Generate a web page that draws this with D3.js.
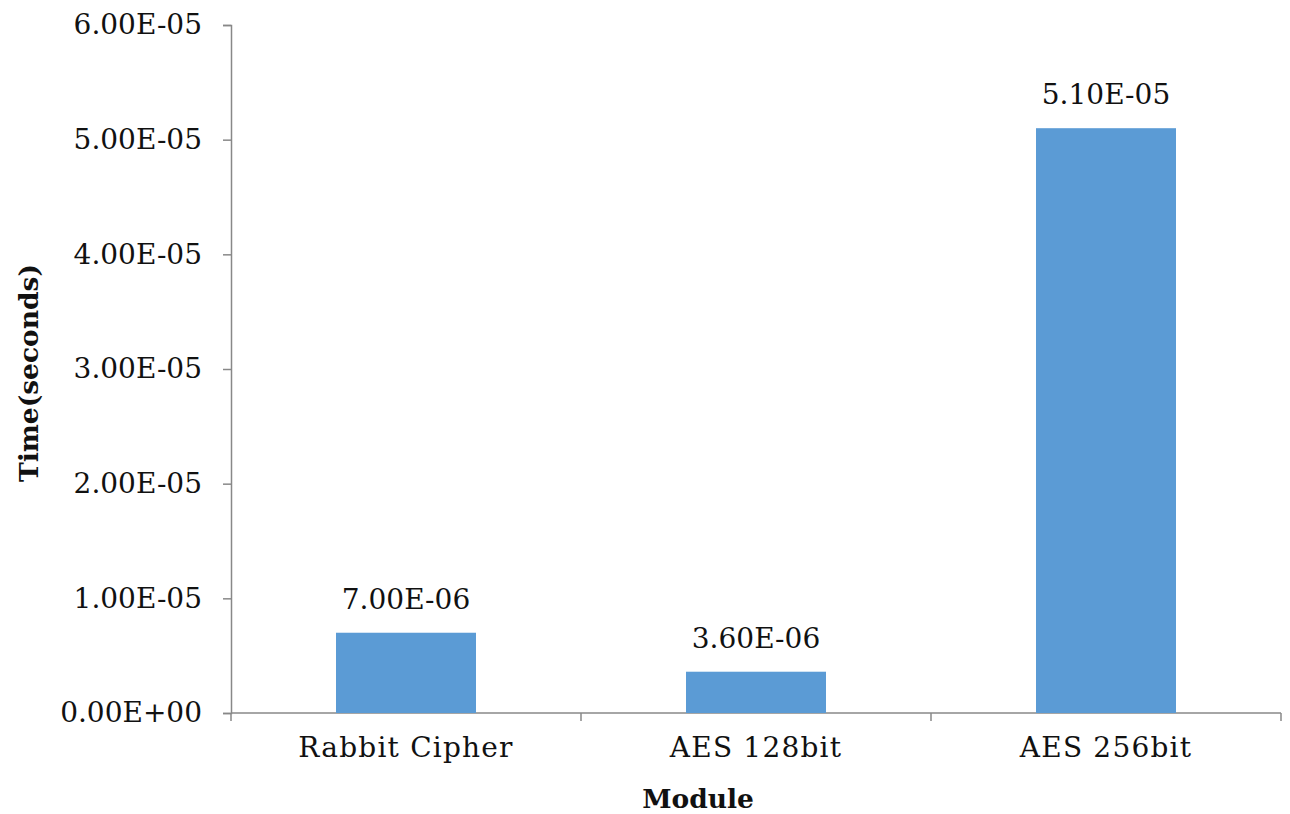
<!DOCTYPE html>
<html>
<head>
<meta charset="utf-8">
<script src="https://cdn.jsdelivr.net/npm/d3@7"></script>
<style>
	body { margin: 0; background: #fff; }
	text { font-family: 'DejaVu Serif', serif; fill: #111; }
</style>
</head>
<body>
<svg></svg>
<script>
const modules = ['Rabbit Cipher', 'AES 128bit', 'AES 256bit'];
const times = [7.0e-6, 3.6e-6, 5.1e-5];
const timeLabels = ['7.00E-06', '3.60E-06', '5.10E-05'];
const yTicks = [0, 1e-5, 2e-5, 3e-5, 4e-5, 5e-5, 6e-5];
const yTickLabels = ['0.00E+00', '1.00E-05', '2.00E-05', '3.00E-05', '4.00E-05', '5.00E-05', '6.00E-05'];

const svg = d3.select('svg')
	.attr('width', 1290)
	.attr('height', 814);

const margin = { top: 25, right: 9, bottom: 101, left: 231 },
	innerWidth = 1290 - margin.left - margin.right,
	innerHeight = 814 - margin.top - margin.bottom;

const g = svg.append('g')
	.attr('transform', `translate(${margin.left}, ${margin.top})`);

const xScale = d3.scaleBand()
	.domain(modules)
	.range([0, innerWidth])
	.paddingInner(0.6)
	.paddingOuter(0.3);

const bandStep = innerWidth / modules.length;

const yScale = d3.scaleLinear()
	.domain([0, 6e-5])
	.range([innerHeight, 0]);

const yAxis = d3.axisLeft(yScale)
	.tickValues(yTicks)
	.tickFormat((d, i) => yTickLabels[i])
	.tickSize(8)
	.tickPadding(21);

const yAxisG = g.append('g').call(yAxis);
yAxisG.selectAll('line, path').attr('stroke', '#888').attr('stroke-width', 1.5);
yAxisG.selectAll('text')
	.style('font-size', '28px')
	.style('font-family', "'DejaVu Serif', serif")
	.attr('fill', '#111');

// x axis line with boundary ticks between categories
const xAxisG = g.append('g')
	.attr('transform', `translate(0, ${innerHeight})`);

xAxisG.append('line')
	.attr('x1', 0)
	.attr('x2', innerWidth)
	.attr('stroke', '#888')
	.attr('stroke-width', 1.5);

xAxisG.selectAll('.bound')
	.data(d3.range(modules.length + 1))
	.enter()
	.append('line')
		.attr('class', 'bound')
		.attr('x1', i => i * bandStep)
		.attr('x2', i => i * bandStep)
		.attr('y1', 0)
		.attr('y2', 8)
		.attr('stroke', '#888')
		.attr('stroke-width', 1.5);

xAxisG.selectAll('.cat')
	.data(modules)
	.enter()
	.append('text')
		.attr('class', 'cat')
		.attr('x', d => xScale(d) + xScale.bandwidth() / 2)
		.attr('y', 44)
		.attr('text-anchor', 'middle')
		.style('font-size', '28px')
		.style('letter-spacing', '1.2px')
		.text(d => d);

g.selectAll('rect')
	.data(times)
	.enter()
	.append('rect')
		.attr('x', (d, i) => xScale(modules[i]))
		.attr('y', d => yScale(d))
		.attr('width', xScale.bandwidth())
		.attr('height', d => innerHeight - yScale(d))
		.attr('fill', '#5B9BD5');

g.selectAll('.val')
	.data(times)
	.enter()
	.append('text')
		.attr('class', 'val')
		.attr('x', (d, i) => xScale(modules[i]) + xScale.bandwidth() / 2)
		.attr('y', d => yScale(d) - 24)
		.attr('text-anchor', 'middle')
		.style('font-size', '28px')
		.text((d, i) => timeLabels[i]);

svg.append('text')
	.attr('transform', `translate(38, ${margin.top + innerHeight / 2 + 4}) rotate(-90)`)
	.attr('text-anchor', 'middle')
	.style('font-size', '26.5px')
	.style('font-weight', 'bold')
	.text('Time(seconds)');

svg.append('text')
	.attr('x', 698)
	.attr('y', 808)
	.attr('text-anchor', 'middle')
	.style('font-size', '26.5px')
	.style('font-weight', 'bold')
	.text('Module');
</script>
</body>
</html>
